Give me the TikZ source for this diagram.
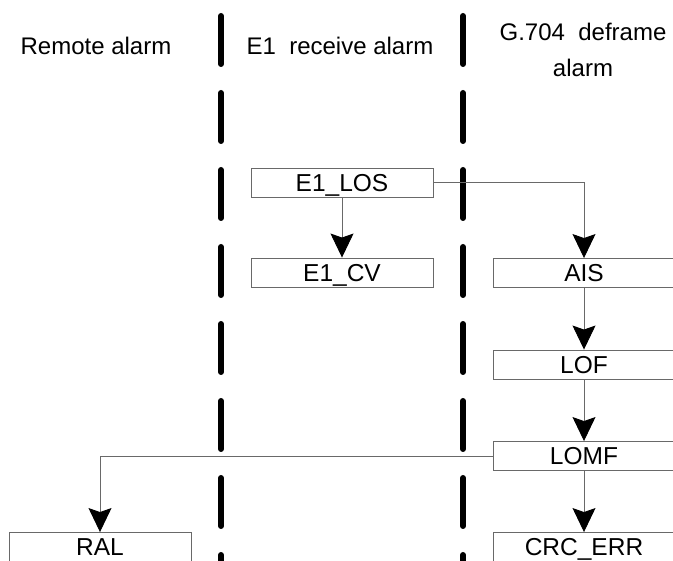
\documentclass[tikz,border=0pt]{standalone}
\usepackage{fontspec}
\setmainfont{Liberation Sans}
\usetikzlibrary{arrows.meta}
\definecolor{alarmgray}{RGB}{105,105,105}

\begin{document}
\begin{tikzpicture}[x=1pt,y=-1pt,
    alarmbox/.style={draw=alarmgray,line width=0.9pt,minimum width=182pt,minimum height=29pt,
      inner sep=0pt,text height=17.5pt,text depth=0pt,font=\fontsize{24.5}{28}\selectfont},
    heading/.style={font=\fontsize{24}{36}\selectfont,align=center},
    divider/.style={line width=6pt,line cap=round,dash pattern=on 48pt off 29pt},
    flow/.style={draw=alarmgray,line width=0.9pt,-{Stealth[width=23pt,length=24pt,inset=4pt,color=black]}}]
        \useasboundingbox (0,0) rectangle (673,561);
        % column dividers
        \draw[divider] (221,16)--(221,600);
        \draw[divider] (463,16)--(463,600);
        % headings
        \node[heading] (hremote) at (96,46) {Remote alarm};
        \node[heading] (hreceive) at (340,46) {E1\ \ receive alarm};
        \node[heading] (hdeframe) at (583,50) {G.704\ \ deframe\\alarm};
        % alarm boxes
        \node[alarmbox] (los) at (342,182.5) {E1\_LOS};
        \node[alarmbox] (cv) at (342,272.5) {E1\_CV};
        \node[alarmbox] (ais) at (584,273) {AIS};
        \node[alarmbox] (lof) at (584,364.5) {LOF};
        \node[alarmbox] (lomf) at (584,456) {LOMF};
        \node[alarmbox] (crc) at (584,547) {CRC\_ERR};
        \node[alarmbox] (ral) at (100,547) {RAL};
        % connectors
        \draw[flow] (los)--(cv);
        \draw[flow] (los.east)-|(ais.north);
        \draw[flow] (ais)--(lof);
        \draw[flow] (lof)--(lomf);
        \draw[flow] (lomf)--(crc);
        \draw[flow] (lomf.west)-|(ral.north);
\end{tikzpicture}
\end{document}
